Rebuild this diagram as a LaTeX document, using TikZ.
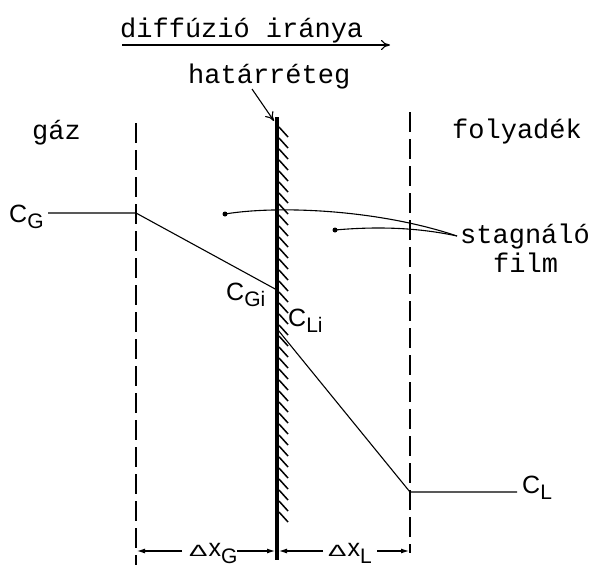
\documentclass[tikz,border=0pt]{standalone}
\usepackage{fontspec}
\setmainfont{Liberation Sans}
\newfontfamily\monofam{Liberation Mono}
\usetikzlibrary{arrows.meta}
\newcommand{\csub}[2]{#1\raisebox{-6pt}{\fontsize{21}{21}\selectfont #2}}
\newcommand{\dxsub}[1]{\scalebox{1.15}[0.68]{\fontsize{24}{24}\selectfont Δ}\kern1pt x\raisebox{-7pt}{\fontsize{21}{21}\selectfont #1}}
\begin{document}
\begin{tikzpicture}[x=1pt,y=-1pt,
  mono/.style={font=\monofam\fontsize{27}{27}\selectfont, inner sep=0pt, anchor=base west},
  conc/.style={font=\fontsize{25}{25}\selectfont, inner sep=0pt, anchor=base west},
  thinline/.style={line width=1.1pt},
  filmline/.style={line width=2.4pt, dash pattern=on 20pt off 7pt},
  wall/.style={line width=4pt},
  hatch/.style={line width=1.5pt},
  dimarrow/.style={line width=1.1pt, -{Latex[length=8pt,width=5pt]}},
  openarrow/.style={line width=1.1pt, -{To[length=9pt,width=10pt]}},
  fdot/.style={circle, fill, inner sep=0pt, minimum size=5pt}]
\useasboundingbox (0,0) rectangle (595,570);

% titles
\node[mono] (diff) at (120,37) {diffúzió iránya};
\coordinate (da) at (122,45);
\coordinate (db) at (390,45);
\draw[openarrow] (da) -- (db);

\node[mono] (hat) at (188,83) {határréteg};
\coordinate (ha) at (252,89);
\coordinate (hb) at (274,121);
\draw[openarrow] (ha) -- (hb);

\node[mono] (gaz) at (32,139) {gáz};
\node[mono] (foly) at (452,138) {folyadék};

% wall with hatching
\coordinate (wt) at (277,117);
\coordinate (wb) at (277,560);
\draw[wall] (wt) -- (wb);
\foreach \y in {127,138,...,522} \draw[hatch] (279,\y) -- ++(9,10);

% film boundaries
\coordinate (lt) at (136,123);
\coordinate (lb) at (136,565);
\coordinate (rt) at (410,112);
\coordinate (rb) at (410,553);
\draw[filmline] (lt) -- (lb);
\draw[filmline] (rt) -- (rb);

% concentration profile
\coordinate (gl) at (48,213);
\coordinate (gd) at (136,213);
\coordinate (gi) at (277,290);
\coordinate (li) at (278,330);
\coordinate (ld) at (410,492);
\coordinate (lr) at (517,492);
\draw[thinline] (gl) -- (gd) -- (gi);
\draw[thinline] (li) -- (ld) -- (lr);

\node[conc] (cg) at (9,222) {\csub{C}{G}};
\node[conc] (cgi) at (226,300) {\csub{C}{Gi}};
\node[conc] (cli) at (288,326) {\csub{C}{Li}};
\node[conc] (cl) at (522,493) {\csub{C}{L}};

% stagnant film labels
\node[fdot] (p1) at (225,214) {};
\node[fdot] (p2) at (335,230) {};
\coordinate (fe) at (457,236);
\draw[thinline] (p1.center) .. controls (280,205) and (380,210) .. (fe);
\draw[thinline] (p2.center) .. controls (380,226) and (420,228) .. (fe);
\node[mono] (stag) at (460,243) {stagnáló};
\node[mono] (film) at (493,272) {film};

% dimensions
\coordinate (g1) at (182,551);
\coordinate (g1t) at (137,551);
\coordinate (g2) at (237,551);
\coordinate (g2t) at (275,551);
\coordinate (l1) at (323,551);
\coordinate (l1t) at (279,551);
\coordinate (l2) at (377,551);
\coordinate (l2t) at (409,551);
\draw[dimarrow] (g1) -- (g1t);
\draw[dimarrow] (g2) -- (g2t);
\draw[dimarrow] (l1) -- (l1t);
\draw[dimarrow] (l2) -- (l2t);
\node[conc] (dxg) at (189,556) {\dxsub{G}};
\node[conc] (dxl) at (328,556) {\dxsub{L}};
\end{tikzpicture}
\end{document}
